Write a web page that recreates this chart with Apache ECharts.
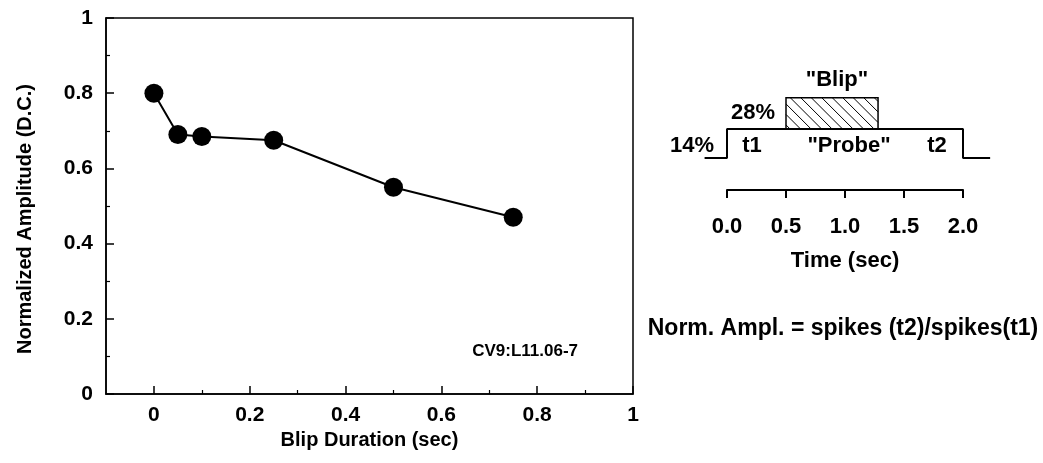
<!DOCTYPE html>
<html>
<head>
<meta charset="utf-8">
<script src="https://cdn.jsdelivr.net/npm/echarts@6/dist/echarts.min.js"></script>
<style>
  html, body { margin: 0; padding: 0; background: #fff; }
  #main { width: 1043px; height: 463px; }
</style>
</head>
<body>
<div id="main"></div>
<script>
  // left plot: normalized amplitude vs blip duration
  var blipDuration = [0, 0.05, 0.1, 0.25, 0.5, 0.75];
  var normAmplitude = [0.80, 0.69, 0.685, 0.675, 0.55, 0.47];
  var xLabelValues = [0, 0.2, 0.4, 0.6, 0.8, 1];
  var xMinorValues = [0.1, 0.3, 0.5, 0.7, 0.9];
  var yLabelValues = [0, 0.2, 0.4, 0.6, 0.8, 1];
  var yMinorValues = [0.1, 0.3, 0.5, 0.7, 0.9];

  // right diagram: stimulus protocol (percent level over time)
  var waveTime = [-0.19, 0, 0, 2, 2, 2.23];
  var waveLevel = [14, 14, 28, 28, 14, 14];
  var blipStart = 0.5, blipEnd = 1.28, blipLow = 28, blipHigh = 43;
  var timeTicks = [0, 0.5, 1, 1.5, 2];

  var FONT = 'Liberation Sans, Arial, sans-serif';

  var chart = echarts.init(document.getElementById('main'));

  function txt(str, x, y, size, align) {
    return {
      type: 'text', x: x, y: y,
      style: {
        text: str, fill: '#000', font: 'bold ' + size + 'px ' + FONT,
        align: align || 'center', verticalAlign: 'middle'
      }
    };
  }

  // 118 px per second in the diagram; wave grid spans -0.2..2.3, time axis grid 0..2
  var option = {
    backgroundColor: '#fff',
    animation: false,
    grid: [
      { left: 106, right: 410, top: 18, bottom: 69, show: true, borderColor: '#000', borderWidth: 1.5, backgroundColor: 'transparent' },
      { left: 727, right: 80, top: 90, bottom: 273 },
      { left: 703.4, right: 44.6, top: 90, bottom: 273 }
    ],
    xAxis: [
      {
        gridIndex: 0, type: 'value', min: -0.1, max: 1,
        name: 'Blip Duration (sec)', nameLocation: 'middle', nameGap: 33,
        nameTextStyle: { color: '#000', fontSize: 20, fontWeight: 'bold', fontFamily: FONT },
        axisLine: { onZero: false, lineStyle: { color: '#000', width: 1.5 } },
        axisTick: { inside: true, length: 8, lineStyle: { color: '#000', width: 1.5 }, customValues: xLabelValues },
        axisLabel: { color: '#000', fontSize: 21, fontWeight: 'bold', fontFamily: FONT, margin: 11, customValues: xLabelValues },
        splitLine: { show: false }
      },
      {
        gridIndex: 0, type: 'value', min: -0.1, max: 1, position: 'bottom',
        axisLine: { show: false, onZero: false },
        axisTick: { inside: true, length: 4, lineStyle: { color: '#000', width: 1.2 }, customValues: xMinorValues },
        axisLabel: { show: false, customValues: [] },
        splitLine: { show: false }
      },
      {
        gridIndex: 1, type: 'value', min: 0, max: 2, interval: 0.5,
        name: 'Time (sec)', nameLocation: 'middle', nameGap: 60,
        nameTextStyle: { color: '#000', fontSize: 22, fontWeight: 'bold', fontFamily: FONT },
        axisLine: { onZero: false, lineStyle: { color: '#000', width: 2 } },
        axisTick: { length: 8, lineStyle: { color: '#000', width: 2 }, customValues: timeTicks },
        axisLabel: {
          color: '#000', fontSize: 22, fontWeight: 'bold', fontFamily: FONT, margin: 26,
          customValues: timeTicks,
          formatter: function (v) { return v.toFixed(1); }
        },
        splitLine: { show: false }
      },
      {
        gridIndex: 2, type: 'value', min: -0.2, max: 2.3, show: false
      }
    ],
    yAxis: [
      {
        gridIndex: 0, type: 'value', min: 0, max: 1,
        name: 'Normalized Amplitude (D.C.)', nameLocation: 'middle', nameGap: 71,
        nameTextStyle: { color: '#000', fontSize: 20, fontWeight: 'bold', fontFamily: FONT, padding: [0, 26, 0, 0] },
        axisLine: { onZero: false, lineStyle: { color: '#000', width: 1.5 } },
        axisTick: { inside: true, length: 8, lineStyle: { color: '#000', width: 1.5 }, customValues: yLabelValues },
        axisLabel: { color: '#000', fontSize: 21, fontWeight: 'bold', fontFamily: FONT, margin: 13, customValues: yLabelValues },
        splitLine: { show: false }
      },
      {
        gridIndex: 0, type: 'value', min: 0, max: 1, position: 'left',
        axisLine: { show: false, onZero: false },
        axisTick: { inside: true, length: 4, lineStyle: { color: '#000', width: 1.2 }, customValues: yMinorValues },
        axisLabel: { show: false, customValues: [] },
        splitLine: { show: false }
      },
      {
        gridIndex: 1, type: 'value', min: -1.5, max: 46.8, show: false
      },
      {
        gridIndex: 2, type: 'value', min: -1.5, max: 46.8, show: false
      }
    ],
    series: [
      {
        type: 'line', xAxisIndex: 0, yAxisIndex: 0,
        data: blipDuration.map(function (d, i) { return [d, normAmplitude[i]]; }),
        symbol: 'circle', symbolSize: 19,
        itemStyle: { color: '#000' },
        lineStyle: { color: '#000', width: 2 }
      },
      {
        type: 'line', xAxisIndex: 3, yAxisIndex: 3,
        data: waveTime.map(function (t, i) { return [t, waveLevel[i]]; }),
        symbol: 'none',
        lineStyle: { color: '#000', width: 2 }
      },
      {
        type: 'custom', xAxisIndex: 3, yAxisIndex: 3,
        data: [[blipStart, blipEnd, blipLow, blipHigh]],
        renderItem: function (params, api) {
          var p0 = api.coord([api.value(0), api.value(3)]);
          var p1 = api.coord([api.value(1), api.value(2)]);
          var x0 = p0[0], y0 = p0[1], x1 = p1[0], y1 = p1[1];
          var h = y1 - y0, step = 10.5;
          var children = [];
          for (var c = x0 - h + 4; c < x1; c += step) {
            var xs = Math.max(c, x0), xe = Math.min(c + h, x1);
            if (xe - xs < 1) continue;
            children.push({
              type: 'line',
              shape: { x1: xs, y1: y0 + (xs - c), x2: xe, y2: y0 + (xe - c) },
              style: { stroke: '#000', lineWidth: 1 }
            });
          }
          children.push({
            type: 'rect',
            shape: { x: x0, y: y0, width: x1 - x0, height: h },
            style: { fill: 'none', stroke: '#000', lineWidth: 1.5 }
          });
          return { type: 'group', children: children };
        }
      }
    ],
    graphic: [
      txt('"Blip"', 837, 80, 22),
      txt('28%', 753, 113, 22),
      txt('14%', 692, 146, 22),
      txt('t1', 752, 146, 22),
      txt('"Probe"', 849, 146, 22),
      txt('t2', 937, 146, 22),
      txt('Norm. Ampl. = spikes (t2)/spikes(t1)', 843, 329, 23),
      txt('CV9:L11.06-7', 578, 351, 17, 'right')
    ]
  };

  chart.setOption(option);
</script>
</body>
</html>
